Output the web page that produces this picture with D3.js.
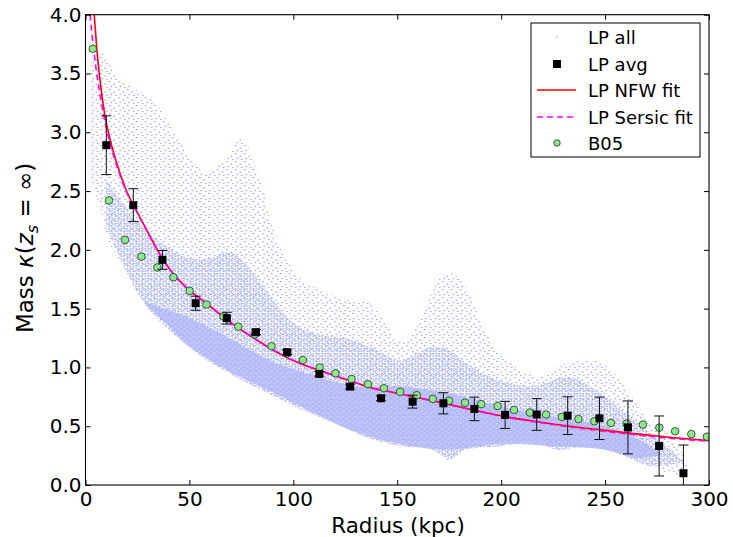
<!DOCTYPE html>
<html><head><meta charset="utf-8">
<script src="https://cdn.jsdelivr.net/npm/d3@7"></script>
<style>body{margin:0;background:#fff}svg{display:block}text{font-family:"DejaVu Sans",sans-serif;fill:#000}</style>
</head><body>
<svg id="chart" width="733" height="537"></svg>
<script>
// ---------- data ----------
const xTicks = [0, 50, 100, 150, 200, 250, 300];
const yTicks = [0.0, 0.5, 1.0, 1.5, 2.0, 2.5, 3.0, 3.5, 4.0];
const legendLabels = ["LP all", "LP avg", "LP NFW fit", "LP Sersic fit", "B05"];

// LP avg (squares with error bars)
const avgR   = [10, 23, 37, 53, 68, 82, 97, 112.5, 127.3, 142.2, 157.4, 172.2, 187.1, 201.9, 217.1, 232, 247.3, 261, 276, 287.7];
const avgK   = [2.89, 2.38, 1.915, 1.546, 1.419, 1.30, 1.13, 0.945, 0.837, 0.738, 0.709, 0.695, 0.647, 0.596, 0.60, 0.59, 0.567, 0.49, 0.332, 0.10];
const avgErr = [0.25, 0.14, 0.08, 0.06, 0.05, 0.02, 0.02, 0.02, 0.02, 0.02, 0.055, 0.09, 0.10, 0.115, 0.135, 0.16, 0.18, 0.225, 0.255, 0.24];

// B05 (green circles)
const b05R = [3.5, 11.3, 19.0, 26.9, 34.6, 42.3, 50.1, 58.2, 66.4, 73.5, 81.4, 89.5, 97.0, 104.6, 112.7, 120.3, 128.0, 135.9, 143.6, 151.4, 159.4, 167.1, 174.9, 182.6, 190.4, 198.3, 206.2, 213.8, 221.6, 229.2, 237.2, 244.8, 252.8, 260.4, 268.2, 276.1, 283.7, 291.5, 299.0];
const b05K = [3.71, 2.42, 2.085, 1.943, 1.85, 1.767, 1.651, 1.535, 1.433, 1.347, 1.28, 1.18, 1.12, 1.063, 0.999, 0.95, 0.902, 0.857, 0.823, 0.792, 0.764, 0.732, 0.717, 0.70, 0.688, 0.672, 0.638, 0.616, 0.599, 0.579, 0.561, 0.542, 0.528, 0.522, 0.514, 0.488, 0.457, 0.433, 0.411];

// LP NFW fit
const nfwR = [4.2, 5.4, 7, 9.1, 11, 15, 20, 24, 29.4, 37.4, 43.9, 50, 60, 67, 80, 96, 103, 112.5, 125, 137, 150, 169, 185, 201, 217, 233, 249, 265, 282, 300];
const nfwK = [4.00, 3.72, 3.44, 3.17, 3.00, 2.74, 2.49, 2.35, 2.17, 1.915, 1.762, 1.657, 1.52, 1.419, 1.26, 1.092, 1.036, 0.975, 0.90, 0.83, 0.78, 0.709, 0.645, 0.585, 0.54, 0.50, 0.467, 0.435, 0.404, 0.377];

// LP Sersic fit
const sersicR = [2.2, 3.8, 5.9, 8.6, 11, 15, 20, 24, 29.4, 37.4, 43.9, 50, 60, 67, 80, 96, 103, 112.5, 125, 137, 150, 169, 185, 201, 217, 233, 249, 265, 282, 300];
const sersicK = [4.00, 3.72, 3.44, 3.16, 2.96, 2.72, 2.48, 2.345, 2.165, 1.912, 1.76, 1.655, 1.52, 1.419, 1.26, 1.092, 1.036, 0.975, 0.90, 0.83, 0.78, 0.708, 0.643, 0.582, 0.535, 0.494, 0.458, 0.426, 0.396, 0.372];

// LP all: envelopes of the cloud of individual profiles (outer, medium-density, dense)
const cloudOuterUpper = [[2.5,3.6],[8,3.67],[16,3.45],[25,3.36],[33,3.26],[42,3.02],[50,2.8],[58,2.65],[66,2.75],[75,2.94],[83,2.65],[90,2.2],[96,1.94],[104,1.75],[112,1.66],[120,1.6],[128,1.57],[136,1.55],[144,1.4],[152,1.22],[161,1.4],[167,1.65],[171,1.77],[176,1.8],[183,1.69],[190,1.4],[198,1.15],[207,1.01],[219,0.92],[227,1.0],[236,1.06],[248,1.04],[256,0.92],[264,0.72],[273,0.5],[280,0.44],[286,0.3],[291,0.12]];
const cloudOuterLower = [[2.5,2.6],[8,2.3],[11,2.08],[20,1.8],[28,1.55],[40,1.32],[56,1.09],[72,0.92],[88,0.78],[104,0.64],[120,0.525],[136,0.4],[152,0.33],[167,0.3],[175,0.21],[183,0.3],[200,0.33],[215,0.37],[227,0.3],[240,0.33],[256,0.27],[272,0.16],[288,0.07],[291,0.12]];
const cloudMidUpper = [[10,2.6],[20,2.35],[30,2.15],[40,2.02],[50,1.93],[60,1.93],[70,1.98],[80,1.82],[90,1.58],[100,1.38],[112,1.28],[125,1.25],[140,1.15],[151,1.06],[160,1.12],[167,1.18],[175,1.15],[183,1.04],[199,0.89],[215,0.84],[232,0.92],[248,0.78],[264,0.55],[280,0.33],[288,0.2]];
const cloudMidLower = [[10,2.2],[20,1.8],[28,1.55],[40,1.32],[56,1.09],[72,0.92],[88,0.78],[104,0.64],[120,0.525],[136,0.4],[152,0.33],[167,0.3],[175,0.22],[183,0.3],[200,0.33],[215,0.37],[227,0.3],[240,0.33],[256,0.27],[272,0.16],[288,0.2]];
const cloudDenseUpper = [[28,1.56],[35,1.52],[50,1.42],[70,1.24],[90,1.05],[110,0.93],[130,0.84],[151,0.84],[175,0.78],[200,0.667],[225,0.58],[250,0.5],[265,0.4],[278,0.26]];
const cloudDenseLower = [[28,1.56],[35,1.44],[50,1.18],[70,0.96],[90,0.79],[110,0.61],[130,0.45],[151,0.35],[175,0.3],[200,0.35],[225,0.33],[250,0.3],[265,0.23],[278,0.26]];

// ---------- chart ----------
const M = {left: 85.5, right: 709, top: 14.7, bottom: 485};
const x = d3.scaleLinear().domain([0, 300]).range([M.left, M.right]);
const y = d3.scaleLinear().domain([0, 4]).range([M.bottom, M.top]);
const svg = d3.select("#chart");
const defs = svg.append("defs");
defs.append("clipPath").attr("id", "clip").append("rect")
  .attr("x", M.left).attr("y", M.top).attr("width", M.right - M.left).attr("height", M.bottom - M.top);

// dot patterns for the LP all cloud
const pSparse = defs.append("pattern").attr("id", "pSparse").attr("patternUnits", "userSpaceOnUse").attr("width", 9).attr("height", 8);
[[1,1],[5.5,3.5],[2.5,5.8],[7,7]].forEach(p => pSparse.append("rect").attr("x", p[0]).attr("y", p[1]).attr("width", 1.6).attr("height", 1.3).attr("fill", "#a4acf0"));
const pMid = defs.append("pattern").attr("id", "pMid").attr("patternUnits", "userSpaceOnUse").attr("width", 6).attr("height", 5);
[[0.5,0.5],[3.4,2.6],[3,0.2],[0.3,3.2],[4.8,4]].forEach(p => pMid.append("rect").attr("x", p[0]).attr("y", p[1]).attr("width", 1.8).attr("height", 1.4).attr("fill", "#a9b1f3"));
const pDense = defs.append("pattern").attr("id", "pDense").attr("patternUnits", "userSpaceOnUse").attr("width", 6).attr("height", 5);
pDense.append("rect").attr("width", 6).attr("height", 5).attr("fill", "#b3b9f7");
[[1,1],[4,3.2]].forEach(p => pDense.append("rect").attr("x", p[0]).attr("y", p[1]).attr("width", 1.1).attr("height", 0.9).attr("fill", "#e6e8fd"));

const plot = svg.append("g").attr("clip-path", "url(#clip)");
const edge = d3.line().x(d => x(d[0])).y(d => y(d[1])).curve(d3.curveCatmullRom);
function band(up, lo) {
  return edge(up) + "L" + edge(lo.slice().reverse()).slice(1) + "Z";
}
plot.append("path").attr("d", band(cloudOuterUpper, cloudOuterLower)).attr("fill", "url(#pSparse)");
plot.append("path").attr("d", band(cloudMidUpper, cloudMidLower)).attr("fill", "url(#pMid)");
plot.append("path").attr("d", band(cloudDenseUpper, cloudDenseLower)).attr("fill", "url(#pDense)").attr("opacity", 0.9);

// fits
const fitLine = d3.line().x(d => x(d[0])).y(d => y(d[1])).curve(d3.curveMonotoneX);
plot.append("path").attr("d", fitLine(nfwR.map((r, i) => [r, nfwK[i]])))
  .attr("fill", "none").attr("stroke", "#ff0000").attr("stroke-width", 1.6);
plot.append("path").attr("d", fitLine(sersicR.map((r, i) => [r, sersicK[i]])))
  .attr("fill", "none").attr("stroke", "#ff00ff").attr("stroke-width", 1.6).attr("stroke-dasharray", "6,4");

// B05 circles
plot.selectAll("circle.b05").data(b05R.map((r, i) => [r, b05K[i]])).enter().append("circle")
  .attr("cx", d => x(d[0])).attr("cy", d => y(d[1])).attr("r", 3.8)
  .attr("fill", "#8ee88a").attr("stroke", "#2f4a2f").attr("stroke-width", 0.9);

// LP avg error bars and squares
const avg = avgR.map((r, i) => ({r, k: avgK[i], e: avgErr[i]}));
const eb = plot.append("g").attr("stroke", "#111").attr("stroke-width", 1);
avg.forEach(d => {
  eb.append("line").attr("x1", x(d.r)).attr("x2", x(d.r)).attr("y1", y(d.k - d.e)).attr("y2", y(d.k + d.e));
  [d.k - d.e, d.k + d.e].forEach(v => eb.append("line").attr("x1", x(d.r) - 5).attr("x2", x(d.r) + 5).attr("y1", y(v)).attr("y2", y(v)));
});
plot.selectAll("rect.avg").data(avg).enter().append("rect")
  .attr("x", d => x(d.r) - 4).attr("y", d => y(d.k) - 4).attr("width", 8).attr("height", 8).attr("fill", "#000");

// frame and ticks
svg.append("rect").attr("x", M.left).attr("y", M.top).attr("width", M.right - M.left).attr("height", M.bottom - M.top)
  .attr("fill", "none").attr("stroke", "#000").attr("stroke-width", 1.1);
const tl = 5;
const axB = svg.append("g").attr("transform", `translate(0,${M.bottom})`).call(d3.axisBottom(x).tickValues(xTicks).tickSizeInner(-tl).tickSizeOuter(0).tickPadding(7).tickFormat(d3.format("d")));
const axT = svg.append("g").attr("transform", `translate(0,${M.top})`).call(d3.axisTop(x).tickValues(xTicks).tickSizeInner(-tl).tickSizeOuter(0).tickFormat(""));
const axL = svg.append("g").attr("transform", `translate(${M.left},0)`).call(d3.axisLeft(y).tickValues(yTicks).tickSizeInner(-tl).tickSizeOuter(0).tickPadding(4).tickFormat(d3.format(".1f")));
const axR = svg.append("g").attr("transform", `translate(${M.right},0)`).call(d3.axisRight(y).tickValues(yTicks).tickSizeInner(-tl).tickSizeOuter(0).tickFormat(""));
[axB, axT, axL, axR].forEach(a => { a.select(".domain").remove(); a.selectAll("line").attr("stroke", "#000"); a.selectAll("text").attr("font-family", "DejaVu Sans").attr("font-size", 20).attr("fill", "#000"); });

// axis labels
svg.append("text").attr("x", 398).attr("y", 533).attr("text-anchor", "middle").attr("font-size", 21.5).text("Radius (kpc)");
const yl = svg.append("text").attr("transform", "translate(33,248) rotate(-90)").attr("text-anchor", "middle").attr("font-size", 23);
yl.append("tspan").text("Mass ");
yl.append("tspan").attr("font-style", "italic").text("κ");
yl.append("tspan").text("(");
yl.append("tspan").attr("font-style", "italic").text("z");
yl.append("tspan").attr("font-style", "italic").attr("font-size", 16).attr("dy", 5).text("s");
yl.append("tspan").attr("dy", -5).text(" = ∞)");

// legend
const lg = svg.append("g");
lg.append("rect").attr("x", 531).attr("y", 23).attr("width", 169).attr("height", 134).attr("fill", "#fff").attr("stroke", "#000").attr("stroke-width", 1);
const rowY = [37, 64, 90, 117, 143];
legendLabels.forEach((t, i) => lg.append("text").attr("x", 588).attr("y", rowY[i] + 6.5).attr("font-size", 18).text(t));
lg.append("rect").attr("x", 556).attr("y", rowY[0] - 0.6).attr("width", 1.4).attr("height", 1.2).attr("fill", "#a6aef0");
lg.append("rect").attr("x", 553).attr("y", rowY[1] - 4).attr("width", 8).attr("height", 8).attr("fill", "#000");
lg.append("line").attr("x1", 537).attr("x2", 576).attr("y1", rowY[2]).attr("y2", rowY[2]).attr("stroke", "#ff0000").attr("stroke-width", 1.6);
lg.append("line").attr("x1", 537).attr("x2", 576).attr("y1", rowY[3]).attr("y2", rowY[3]).attr("stroke", "#ff00ff").attr("stroke-width", 1.6).attr("stroke-dasharray", "6,4");
lg.append("circle").attr("cx", 557).attr("cy", rowY[4]).attr("r", 3.2).attr("fill", "#8ee88a").attr("stroke", "#2f4a2f").attr("stroke-width", 0.9);
</script>
</body></html>
